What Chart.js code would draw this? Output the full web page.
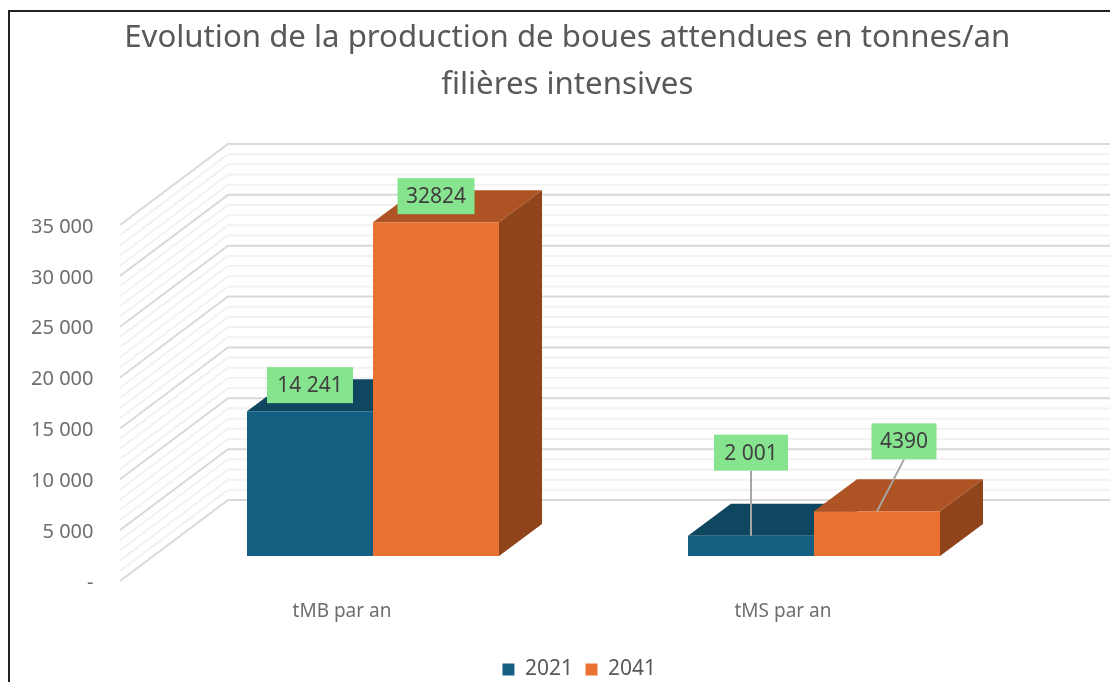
<!DOCTYPE html>
<html lang="fr">
<head>
<meta charset="utf-8">
<title>Evolution de la production de boues</title>
<style>
html,body{margin:0;padding:0;background:#fff;overflow:hidden}
#wrap{position:relative;width:1110px;height:682px;overflow:hidden}
#frame{position:absolute;left:8px;top:10px;right:-4px;bottom:-4px;border:2px solid #222;pointer-events:none}
canvas{display:block}
</style>
</head>
<body>
<div id="wrap"><canvas id="c" width="1110" height="682"></canvas><div id="frame"></div></div>
<script src="https://cdn.jsdelivr.net/npm/chart.js@4"></script>
<script>
const categories = ["tMB par an", "tMS par an"];
const series2021 = [14241, 2001];
const series2041 = [32824, 4390];
const labels2021 = ["14 241", "2 001"];
const labels2041 = ["32824", "4390"];
const yTickLabels = {0:"-",5000:"5 000",10000:"10 000",15000:"15 000",20000:"20 000",25000:"25 000",30000:"30 000",35000:"35 000"};
const titleLines = ["Evolution de la production de boues attendues en tonnes/an", "filières intensives"];

const FONT = '"Noto Sans", sans-serif';
const WALL = {dx:108, dy:-81, left:120};
const BAR_LIFT = 25;
const DEPTH = {dx:43, dy:-32};
const LABEL_POS = [
  [{dx:0,dy:-26},{dx:0,dy:-83}],
  [{dx:0,dy:-26},{dx:27,dy:-70}]
];
const SHADES = [
  {top:"#0F4761", side:"#0C3A50"},
  {top:"#AE5424", side:"#8F441C"}
];
const TITLE_SHIFT = 38, LEGEND_SHIFT = {x:50, y:8};

const box3d = {
  id:"box3d",
  beforeDraw(chart){
    if(!chart.$shifted){
      chart.titleBlock.left+=TITLE_SHIFT;chart.titleBlock.right+=TITLE_SHIFT;
      chart.legend.left+=LEGEND_SHIFT.x;chart.legend.right+=LEGEND_SHIFT.x;
      chart.legend.top+=LEGEND_SHIFT.y;chart.legend.bottom+=LEGEND_SHIFT.y;
      chart.$shifted=true;
    }
  },
  beforeDatasetsDraw(chart){
    const {ctx, scales:{y}} = chart;
    ctx.save();
    const line = (v,color,w)=>{
      const py = y.getPixelForValue(v);
      ctx.beginPath();
      ctx.moveTo(WALL.left, py);
      ctx.lineTo(WALL.left+WALL.dx, py+WALL.dy);
      ctx.lineTo(chart.width, py+WALL.dy);
      ctx.strokeStyle=color; ctx.lineWidth=w; ctx.stroke();
    };
    for(let v=y.min; v<=y.max; v+=1000){
      if(v%5000) line(v,"#F2F2F2",2);
    }
    for(let v=y.min; v<=y.max; v+=5000) line(v,"#D9D9D9",2);
    ctx.restore();

    // left series first, so the right series stands in front of its side face
    [0,1].forEach(ds=>{
      const meta = chart.getDatasetMeta(ds);
      const shade = SHADES[ds];
      ctx.save();
      ctx.translate(0,-BAR_LIFT);
      meta.data.forEach(el=>{
        const p = el.getProps(["x","y","base","width"],true);
        const l=p.x-p.width/2, r=p.x+p.width/2, t=p.y, b=p.base;
        ctx.fillStyle=shade.side;
        ctx.beginPath();
        ctx.moveTo(r,t);ctx.lineTo(r+DEPTH.dx,t+DEPTH.dy);ctx.lineTo(r+DEPTH.dx,b+DEPTH.dy);ctx.lineTo(r,b);
        ctx.closePath();ctx.fill();
        ctx.fillStyle=shade.top;
        ctx.beginPath();
        ctx.moveTo(l,t);ctx.lineTo(l+DEPTH.dx,t+DEPTH.dy);ctx.lineTo(r+DEPTH.dx,t+DEPTH.dy);ctx.lineTo(r,t);
        ctx.closePath();ctx.fill();
      });
      meta.controller.draw();
      ctx.restore();
    });
  },
  beforeDatasetDraw(){ return false; },
  afterDatasetsDraw(chart){
    const {ctx} = chart;
    const texts=[labels2021,labels2041];
    ctx.save();
    ctx.font='21px '+FONT;
    ctx.textAlign="center";ctx.textBaseline="middle";
    [0,1].forEach(ds=>{
      chart.getDatasetMeta(ds).data.forEach((el,i)=>{
        const p=el.getProps(["x","y"],true);
        const top=p.y-BAR_LIFT, o=LABEL_POS[ds][i];
        const cx=p.x+o.dx, cy=top+o.dy, txt=texts[ds][i];
        const w=Math.ceil(ctx.measureText(txt).width)+(txt.includes(" ")?20:16), h=36;
        if(-o.dy>h){
          ctx.beginPath();ctx.moveTo(cx,cy+h/2);ctx.lineTo(p.x,top);
          ctx.strokeStyle="#A6A6A6";ctx.lineWidth=2;ctx.stroke();
        }
        ctx.fillStyle="#86E48E";
        ctx.fillRect(cx-w/2,cy-h/2,w,h);
        ctx.fillStyle="#404040";
        ctx.fillText(txt,cx,cy+1);
      });
    });
    ctx.restore();
  }
};

new Chart(document.getElementById("c"),{
  type:"bar",
  data:{
    labels:categories,
    datasets:[
      {label:"2021",data:series2021,backgroundColor:"#156082"},
      {label:"2041",data:series2041,backgroundColor:"#E97132"}
    ]
  },
  plugins:[box3d],
  options:{
    responsive:false,
    animation:false,
    events:[],
    clip:false,
    layout:{padding:{left:24,right:75.5,top:0,bottom:0}},
    datasets:{bar:{barPercentage:1,categoryPercentage:252/441}},
    plugins:{
      tooltip:{enabled:false},
      title:{
        display:true,
        text:titleLines,
        color:"#595959",
        font:{family:FONT,size:31.2,weight:"normal",lineHeight:47/31.2},
        padding:{top:15,bottom:116}
      },
      legend:{
        position:"bottom",
        labels:{
          boxWidth:12,boxHeight:12,padding:12.5,
          color:"#595959",
          font:{family:FONT,size:21}
        }
      }
    },
    scales:{
      x:{
        grid:{display:false},
        border:{display:false},
        ticks:{color:"#6E6E6E",font:{family:FONT,size:19},padding:11,labelOffset:-31,maxRotation:0},
        afterFit(s){s.height=57.5;}
      },
      y:{
        min:0,max:35000,
        grid:{display:false},
        border:{display:false},
        ticks:{
          stepSize:5000,
          color:"#6E6E6E",
          font:{family:FONT,size:20},
          padding:51,
          labelOffset:2,
          callback:v=>yTickLabels[v]
        },
        afterFit(s){s.width=128.5;}
      }
    }
  }
});
</script>
</body>
</html>
